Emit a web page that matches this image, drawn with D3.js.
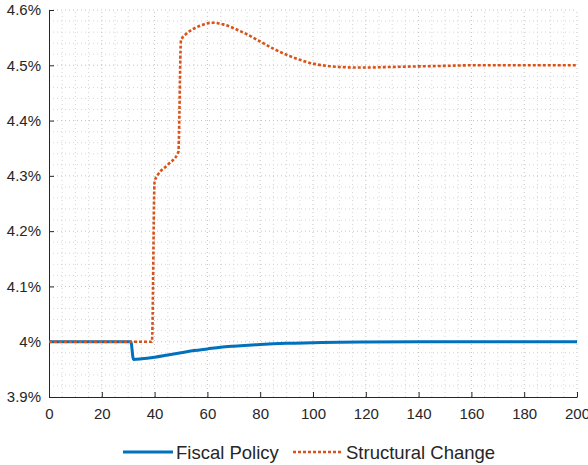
<!DOCTYPE html>
<html>
<head>
<meta charset="utf-8">
<script src="https://cdn.jsdelivr.net/npm/d3@7"></script>
<style>
  body { margin: 0; background: #fff; }
  svg { display: block; }
</style>
</head>
<body>
<div id="chart"></div>
<script>
(function () {
  const width = 588;
  const height = 465;

  // ---------------------------DATA-----------------------------------
  const fiscalT = [0, 31, 32, 35, 40, 45, 50, 55, 60, 65, 70, 80, 90, 100, 110, 120, 140, 160, 200];
  const fiscalV = [4.0, 4.0, 3.968, 3.969, 3.972, 3.976, 3.98, 3.984, 3.987, 3.99, 3.992, 3.995,
    3.997, 3.998, 3.999, 3.9995, 4.0, 4.0, 4.0];

  const structT = [0, 39, 40, 41, 45, 49, 50, 52, 54, 56, 58, 60, 62, 64, 66, 68, 70, 75, 80, 85,
    90, 95, 100, 105, 110, 115, 120, 130, 140, 150, 160, 180, 200];
  const structV = [4.0, 4.0, 4.29, 4.3, 4.32, 4.343, 4.545, 4.557, 4.564, 4.569, 4.573, 4.576,
    4.577, 4.576, 4.574, 4.571, 4.567, 4.556, 4.543, 4.53, 4.519, 4.51, 4.503, 4.499, 4.497,
    4.496, 4.496, 4.497, 4.498, 4.499, 4.5, 4.5, 4.5];

  const xTicks = [0, 20, 40, 60, 80, 100, 120, 140, 160, 180, 200];
  const yTicks = [3.9, 4.0, 4.1, 4.2, 4.3, 4.4, 4.5, 4.6];
  const seriesNames = ["Fiscal Policy", "Structural Change"];
  const seriesColors = ["#0072BD", "#D95319"];

  const font = "Liberation Sans, Arial, Helvetica, sans-serif";
  const ink = "#262626";

  const x = d3.scaleLinear().domain([0, 200]).range([49, 577]);
  const y = d3.scaleLinear().domain([3.9, 4.6]).range([397, 10]);

  const svg = d3.select("#chart")
    .append("svg")
    .attr("width", width)
    .attr("height", height);

  // ---------------------------GRID-----------------------------------
  const grid = svg.append("g");

  // minor grid
  grid.selectAll("line.minor-x")
    .data(d3.range(5, 200, 5).filter((d) => d % 20 !== 0))
    .join("line")
    .attr("class", "minor-x")
    .attr("x1", (d) => x(d)).attr("x2", (d) => x(d))
    .attr("y1", y(3.9)).attr("y2", y(4.6))
    .attr("stroke", "#d6d6d6")
    .attr("stroke-dasharray", "1,3");

  grid.selectAll("line.minor-y")
    .data(d3.range(0, 35).map((i) => 3.9 + i * 0.02).filter((d, i) => i % 5 !== 0))
    .join("line")
    .attr("class", "minor-y")
    .attr("x1", x(0)).attr("x2", x(200))
    .attr("y1", (d) => y(d)).attr("y2", (d) => y(d))
    .attr("stroke", "#d6d6d6")
    .attr("stroke-dasharray", "1,3");

  // major grid
  grid.selectAll("line.major-x")
    .data(xTicks.slice(1))
    .join("line")
    .attr("class", "major-x")
    .attr("x1", (d) => x(d)).attr("x2", (d) => x(d))
    .attr("y1", y(3.9)).attr("y2", y(4.6))
    .attr("stroke", "#c4c4c4")
    .attr("stroke-dasharray", "1,3");

  grid.selectAll("line.major-y")
    .data(yTicks.slice(1))
    .join("line")
    .attr("class", "major-y")
    .attr("x1", x(0)).attr("x2", x(200))
    .attr("y1", (d) => y(d)).attr("y2", (d) => y(d))
    .attr("stroke", "#c4c4c4")
    .attr("stroke-dasharray", "1,3");

  // ---------------------------AXES-----------------------------------
  const xAxis = svg.append("g")
    .attr("transform", `translate(0, ${y(3.9)})`)
    .call(d3.axisBottom(x).tickValues(xTicks).tickSizeInner(-5).tickSizeOuter(0).tickPadding(11));

  const yAxis = svg.append("g")
    .attr("transform", `translate(${x(0)}, 0)`)
    .call(d3.axisLeft(y).tickValues(yTicks).tickSizeInner(-5).tickSizeOuter(0).tickPadding(8)
      .tickFormat((d) => +d.toFixed(1) + "%"));

  [xAxis, yAxis].forEach((a) => {
    a.select(".domain").attr("stroke", ink);
    a.selectAll(".tick line").attr("stroke", ink);
    a.selectAll(".tick text")
      .attr("fill", ink)
      .attr("font-family", font)
      .attr("font-size", "15px");
  });

  // ---------------------------LINES-----------------------------------
  const line = d3.line()
    .x((d) => x(d[0]))
    .y((d) => y(d[1]))
    .curve(d3.curveMonotoneX);

  const fiscal = fiscalT.map((t, i) => [t, fiscalV[i]]);
  const struct = structT.map((t, i) => [t, structV[i]]);

  svg.append("path")
    .attr("d", line(fiscal))
    .attr("fill", "none")
    .attr("stroke", seriesColors[0])
    .attr("stroke-width", 3);

  svg.append("path")
    .attr("d", line(struct))
    .attr("fill", "none")
    .attr("stroke", seriesColors[1])
    .attr("stroke-width", 2.6)
    .attr("stroke-dasharray", "3,2");

  // ---------------------------LEGEND-----------------------------------
  const legendItems = [
    { name: seriesNames[0], color: seriesColors[0], x0: 123, dash: null, w: 3 },
    { name: seriesNames[1], color: seriesColors[1], x0: 293, dash: "3,2", w: 2.6 },
  ];

  const legend = svg.append("g").attr("transform", "translate(0, 452)");

  const entries = legend.selectAll("g")
    .data(legendItems)
    .join("g")
    .attr("transform", (d) => `translate(${d.x0}, 0)`);

  entries.append("line")
    .attr("x1", 0).attr("x2", 50)
    .attr("y1", 0).attr("y2", 0)
    .attr("stroke", (d) => d.color)
    .attr("stroke-width", (d) => d.w)
    .attr("stroke-dasharray", (d) => d.dash);

  entries.append("text")
    .attr("x", 53)
    .attr("y", 7)
    .attr("fill", ink)
    .attr("font-family", font)
    .attr("font-size", "18.5px")
    .text((d) => d.name);
})();
</script>
</body>
</html>
